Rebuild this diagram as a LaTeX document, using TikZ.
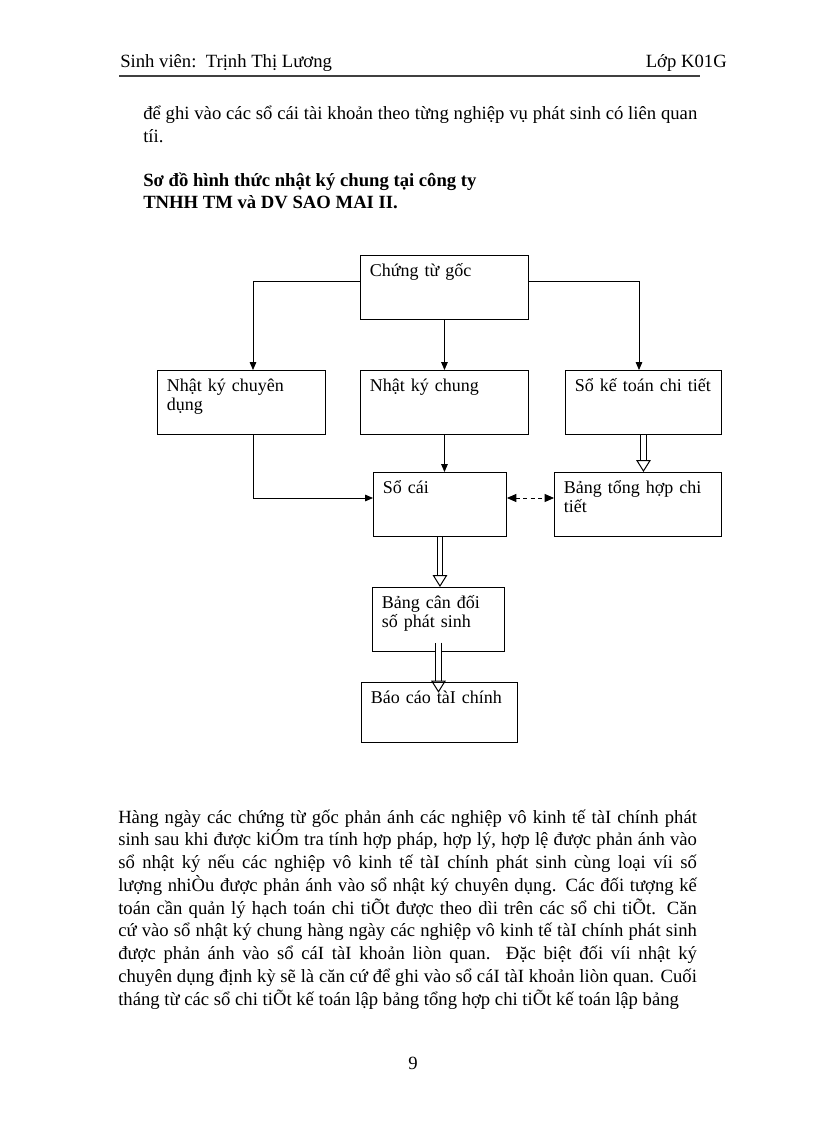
\documentclass[tikz,border=0pt]{standalone}
\usepackage{fontspec}
\setmainfont{Liberation Serif}
\usetikzlibrary{arrows.meta}
\newcommand{\bodyfont}{\fontsize{14pt}{17pt}\selectfont}
\newcommand{\boxfont}{\fontsize{13.5pt}{14.3pt}\selectfont}
\newcommand{\jline}[1]{\makebox[434pt][s]{#1}}
\tikzset{
  blk/.style={draw, line width=0.7pt, anchor=north west, align=left,
    font=\boxfont, inner xsep=7pt, inner ysep=0pt, text height=16pt},
  arr/.style={line width=0.6pt, -{Triangle[length=6pt,width=5pt]}},
  dblarr/.style={double, double distance=3.5pt, line width=0.75pt,
    -{Triangle[open,length=9pt,width=11pt]}},
  dasharr/.style={line width=0.6pt, dash pattern=on 3pt off 2.5pt,
    {Triangle[length=7pt,width=6pt]}-{Triangle[length=7pt,width=6pt]}},
  txt/.style={anchor=base west, inner sep=0pt, font=\bodyfont},
}
\begin{document}
\begin{tikzpicture}[x=0.75pt,y=-0.75pt]
  \useasboundingbox (0,0) rectangle (816,1123);
  % header
  \node[txt] (hl) at (120,68) {Sinh viên:\ \ Trịnh Thị Lương};
  \node[txt, anchor=base east] (hr) at (727,68) {Lớp K01G};
  \draw[line width=1.4pt, black!75] (119,76) -- (700,76);
  % text above
  \node[txt] (t1) at (143,120) {\makebox[415.5pt][s]{để ghi vào các sổ cái tài khoản theo từng nghiệp vụ phát sinh có liên\ quan}};
  \node[txt] (t2) at (143,143) {tíi.};
  \node[txt, font=\bodyfont\bfseries] (h1) at (143,187) {Sơ đồ hình thức nhật ký chung tại công ty};
  \node[txt, font=\bodyfont\bfseries] (h2) at (143,209) {TNHH TM và DV SAO MAI II.};
  % boxes
  \node[blk, text width=112pt, text depth=32pt] (ctg) at (360,255) {Chứng từ gốc};
  \node[blk, text width=112pt, text depth=32pt] (nkcd) at (157,370) {Nhật ký chuyên\\dụng};
  \node[blk, text width=112pt, text depth=32pt] (nkc) at (360,370) {Nhật ký chung};
  \node[blk, text width=103pt, text depth=32pt] (sktct) at (565,370) {Sổ kế toán chi tiết};
  \node[blk, text width=85.75pt, text depth=32pt] (soc) at (373,472) {Sổ cái};
  \node[blk, text width=111.25pt, text depth=32pt] (bthct) at (554,472) {Bảng tổng hợp chi\\tiết};
  \node[blk, text width=85pt, text depth=32pt] (bcd) at (372,587) {Bảng cân đối\\số phát sinh};
  \node[blk, text width=103pt, text depth=29pt] (bctc) at (361,682) {Báo cáo tàI chính};
  % connectors
  \coordinate (ty) at (0,281);
  \coordinate (dy) at (0,498);
  \coordinate (lx) at (253,0);
  \coordinate (rx) at (639,0);
  \draw[arr] (ctg.west |- ty) -| (nkcd.north -| lx);
  \draw[arr] (ctg.east |- ty) -| (sktct.north -| rx);
  \draw[arr] (ctg.south) -- (nkc.north);
  \draw[arr] (nkcd.south -| lx) |- (soc.west |- dy);
  \draw[arr] (nkc.south) -- (soc.north -| nkc.south);
  \draw[dasharr] (soc.east |- dy) -- (bthct.west |- dy);
  \draw[dblarr] (sktct.south) -- (bthct.north -| sktct.south);
  \draw[dblarr] (soc.south) -- (bcd.north -| soc.south);
  \draw[dblarr] ([yshift=7pt]bcd.south) -- ([yshift=-8pt]bctc.north -| bcd.south);
  % text below
  \node[txt] (p1) at (118,823) {\jline{Hàng ngày các chứng từ gốc phản ánh các nghiệp vô kinh tế tàI chính phát}};
  \node[txt] (p2) at (118,845.75) {\jline{sinh sau khi được kiÓm tra tính hợp pháp, hợp lý, hợp lệ được phản ánh vào}};
  \node[txt] (p3) at (118,868.5) {\jline{sổ nhật ký nếu các nghiệp vô kinh tế tàI chính phát sinh cùng loại víi số}};
  \node[txt] (p4) at (118,891.25) {\jline{lượng nhiÒu được phản ánh vào sổ nhật ký chuyên dụng. Các đối tượng kế}};
  \node[txt] (p5) at (118,914) {\jline{toán cần quản lý hạch toán chi tiÕt được theo dìi trên các sổ chi tiÕt. Căn}};
  \node[txt] (p6) at (118,936.75) {\jline{cứ vào sổ nhật ký chung hàng ngày các nghiệp vô kinh tế tàI chính phát sinh}};
  \node[txt] (p7) at (118,959.5) {\jline{được phản ánh vào sổ cáI tàI khoản liòn quan. Đặc biệt đối víi nhật ký}};
  \node[txt] (p8) at (118,982.25) {\jline{chuyên dụng định kỳ sẽ là căn cứ để ghi vào sổ cáI tàI khoản liòn quan. Cuối}};
  \node[txt] (p9) at (118,1005) {tháng từ các sổ chi tiÕt kế toán lập bảng tổng hợp chi tiÕt kế toán lập bảng};
  \node[txt, anchor=base] (pg) at (413,1069) {9};
\end{tikzpicture}
\end{document}
